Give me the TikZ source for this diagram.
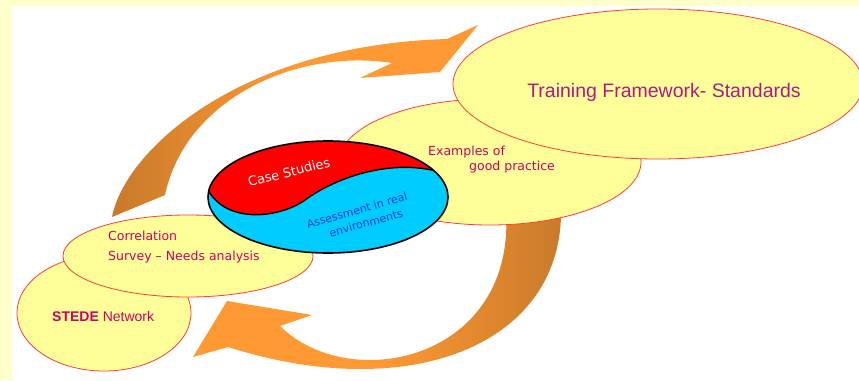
\documentclass[tikz,border=0pt]{standalone}
\usepackage{fontspec}
\usetikzlibrary{shapes.geometric}
\newfontfamily\verdfont{DejaVu Sans}
\newfontfamily\arialfont{Liberation Sans}
\definecolor{pagebg}{RGB}{255,255,204}
\definecolor{blobfill}{RGB}{255,255,153}
\definecolor{blobline}{RGB}{255,60,60}
\definecolor{arroworange}{RGB}{255,153,51}
\definecolor{arrowbrown}{RGB}{200,122,42}
\definecolor{labelpink}{RGB}{204,0,102}
\definecolor{titlepink}{RGB}{175,25,135}
\definecolor{casered}{RGB}{255,0,0}
\definecolor{assessblue}{RGB}{0,204,255}
\definecolor{assesstext}{RGB}{10,60,210}

\begin{document}
\begin{tikzpicture}[x=1pt,y=-1pt,
   blob/.style={ellipse,draw=blobline,line width=0.8pt,fill=blobfill,inner sep=0pt},
   smalltext/.style={text=labelpink,inner sep=0pt,align=left,
      font=\verdfont\fontsize{12.5}{15}\selectfont},
   assesstxt/.style={text=assesstext,rotate=16,inner sep=0pt,
      font=\verdfont\fontsize{11}{13}\selectfont}]
   % page
   \useasboundingbox (0,0) rectangle (859,380);
   \fill[pagebg] (0,0) rectangle (859,380);
   \fill[white] (12,6) rectangle (859,380);
   % the two turning arrows
   \shade[left color=arrowbrown,right color=arroworange,middle color=arroworange]
      (112,217) .. controls (125,150) and (240,45) .. (447,39)
      -- (478,25) -- (440,72) -- (360,78) -- (392,63)
      .. controls (295,48) and (185,100) .. (165,195) -- cycle;
   \shade[left color=arroworange,right color=arrowbrown,middle color=arroworange]
      (561,206) .. controls (565,345) and (410,405) .. (228,347)
      -- (193,357) -- (227,301) -- (312,315) -- (280,326)
      .. controls (350,395) and (515,360) .. (506,212) -- cycle;
   % the ovals
   \node[blob,minimum width=174pt,minimum height=116pt] (stede) at (104,313) {};
   \node[blob,minimum width=250pt,minimum height=82pt] (survey) at (188,256) {};
   \node[blob,minimum width=302pt,minimum height=126pt] (practice) at (490,162) {};
   \node[blob,minimum width=410pt,minimum height=150pt] (train) at (658,84) {};
   % centre piece
   \node[ellipse,fill=assessblue,minimum width=240pt,minimum height=112pt] (core) at (328,197) {};
   \begin{scope}
      \clip (core.center) ellipse [x radius=120pt,y radius=56pt];
      \fill[casered] (207,188) .. controls (225,225) and (280,218) .. (305,200)
         .. controls (335,178) and (390,158) .. (440,172) -- (470,120) -- (190,120) -- cycle;
      \draw[line width=1.4pt] (207,188) .. controls (225,225) and (280,218) .. (305,200)
         .. controls (335,178) and (390,158) .. (440,172);
   \end{scope}
   \draw[line width=1.6pt] (core.center) ellipse [x radius=120pt,y radius=56pt];
   % labels
   \node[text=titlepink,font=\arialfont\fontsize{19.5}{22}\selectfont] (trainlbl) at (664,92)
      {Training Framework- Standards};
   \node[smalltext,anchor=north west] (practicelbl) at (428,146)
      {Examples of\\\hspace*{41pt}good practice};
   \node[smalltext,anchor=north west,font=\verdfont\fontsize{12.5}{20}\selectfont] (surveylbl) at (108,231)
      {Correlation\\Survey – Needs analysis};
   \node[text=labelpink,anchor=west,inner sep=0pt,font=\arialfont\fontsize{14}{16}\selectfont] (stedelbl) at (52,316)
      {\textbf{STEDE} Network};
   \node[text=white,rotate=14,inner sep=0pt,font=\verdfont\fontsize{13}{15}\selectfont] (caselbl) at (289,172)
      {Case Studies};
   \node[assesstxt] (assesslbl) at (357,210) {Assessment in real};
   \node[assesstxt] (envlbl) at (366,223) {environments};
\end{tikzpicture}
\end{document}
